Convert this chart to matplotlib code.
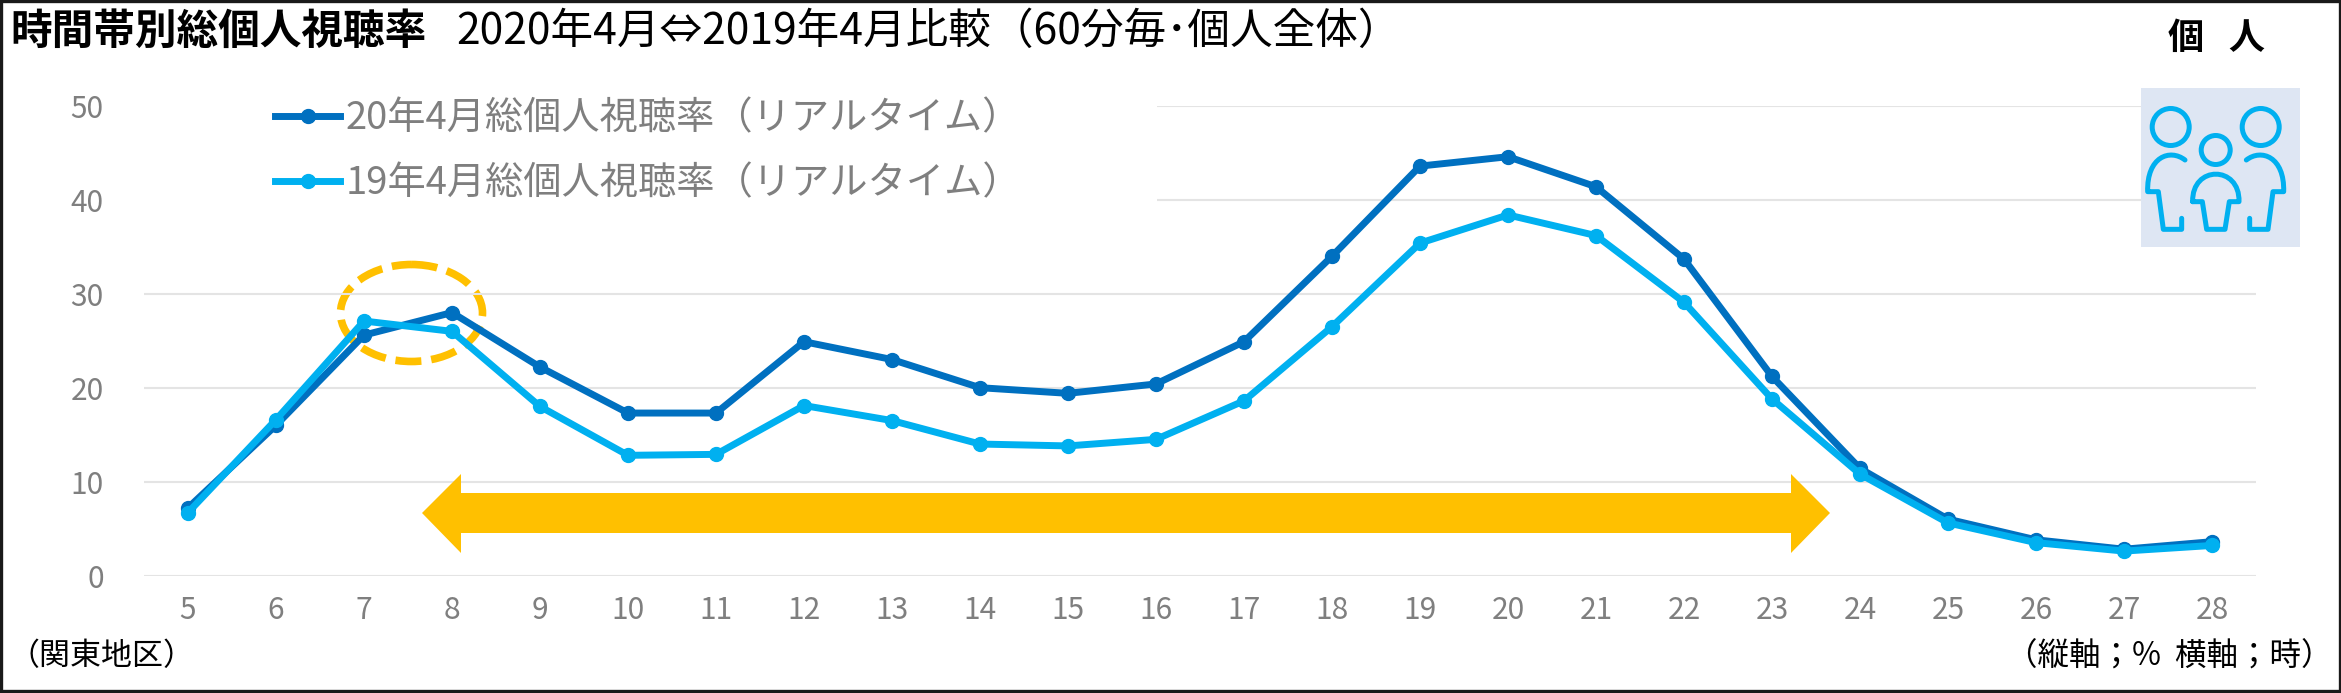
import matplotlib
matplotlib.use("Agg")
import matplotlib.pyplot as plt
from matplotlib.patches import Rectangle, Ellipse, Circle, Polygon, PathPatch
from matplotlib.path import Path

FONT = ['Noto Sans CJK JP', 'DejaVu Sans']
plt.rcParams['font.family'] = FONT

hours = list(range(5, 29))
y_ticks = [0, 10, 20, 30, 40, 50]
label_20 = '20年4月総個人視聴率（リアルタイム）'
label_19 = '19年4月総個人視聴率（リアルタイム）'
rate_2020 = [7.2, 16.0, 25.6, 28.0, 22.2, 17.3, 17.3, 24.9, 23.0, 20.0, 19.4, 20.4,
             24.9, 34.0, 43.6, 44.6, 41.4, 33.7, 21.2, 11.4, 6.0, 3.8, 2.8, 3.6]
rate_2019 = [6.7, 16.6, 27.1, 26.0, 18.0, 12.8, 12.9, 18.1, 16.5, 14.0, 13.8, 14.5,
             18.6, 26.5, 35.4, 38.4, 36.2, 29.1, 18.8, 10.8, 5.6, 3.5, 2.6, 3.2]

W, H = 2341, 693
BLUE, CYAN, GOLD, GREY = '#0070C0', '#00B0F0', '#FFC000', '#7F7F7F'
fig = plt.figure(figsize=(W / 100, H / 100), dpi=100, facecolor='white')

def pixel_axes(z):
    a = fig.add_axes([0, 0, 1, 1], zorder=z)
    a.set_xlim(0, W); a.set_ylim(H, 0); a.axis('off')
    return a

back = pixel_axes(1)
ax = fig.add_axes([144 / W, 1 - 575.5 / H, (2256 - 144) / W, (575.5 - 106) / H], zorder=2)
ax.patch.set_alpha(0)
front = pixel_axes(3)

# chart
ax.set_xlim(4.5, 28.5)
ax.set_ylim(0, 50)
ax.set_yticks(y_ticks)
ax.set_xticks(hours)
ax.grid(axis='y', color='#E4E4E4', lw=1.5, zorder=0)
ax.set_axisbelow(True)
for s in ax.spines.values():
    s.set_visible(False)
ax.tick_params(length=0, labelsize=21.5, labelcolor=GREY)
ax.tick_params(axis='y', pad=29)
ax.tick_params(axis='x', pad=14)
ax.add_patch(Rectangle((136, 90), 1021, 130, transform=front.transData,
                       fc='white', ec='none', zorder=1, clip_on=False))
ax.plot(hours, rate_2020, color=BLUE, lw=5, marker='o', ms=10, label=label_20, zorder=3,
        clip_on=False)
ax.plot(hours, rate_2019, color=CYAN, lw=5, marker='o', ms=10, label=label_19, zorder=4,
        clip_on=False)
leg = ax.legend(loc='upper left', bbox_to_anchor=(275, 99), bbox_transform=front.transData,
                frameon=False, fontsize=27.5, handlelength=1.71, handletextpad=0.13,
                labelspacing=0.68, borderpad=0, borderaxespad=0, labelcolor=GREY)
leg.set_zorder(6)

# annotation shapes
back.add_patch(Ellipse((411.5, 313), 142, 97, fill=False, ec=GOLD, lw=5.5, ls=(0, (3.4, 1.3))))
front.add_patch(Polygon([(422, 513), (461, 474), (461, 493), (1791, 493), (1791, 474),
                         (1830, 513), (1791, 553), (1791, 533), (461, 533), (461, 553)],
                        closed=True, fc=GOLD, ec='none'))

# icon
front.add_patch(Rectangle((2141, 88), 159, 159, fc='#DEE6F3', ec='none'))
ICON = dict(fill=False, ec=CYAN, lw=3.6, capstyle='round', joinstyle='round')
for c, r in [((2170.7, 127), 18.5), ((2260.7, 127), 18.5), ((2215.7, 150), 14.5)]:
    front.add_patch(Circle(c, r, **ICON))

def body(m):
    X = lambda x: 2050 + (x if m == 1 else 994 - x) / 3
    Y = lambda y: y / 3
    v = [(405, 480), (360, 445), (290, 470), (293, 575), (325, 575), (340, 688), (395, 688), (395, 655)]
    codes = [Path.MOVETO, Path.CURVE4, Path.CURVE4, Path.CURVE4, Path.LINETO, Path.LINETO,
             Path.LINETO, Path.LINETO]
    return Path([(X(x), Y(y)) for x, y in v], codes)

front.add_patch(PathPatch(body(1), **ICON))
front.add_patch(PathPatch(body(-1), **ICON))
kid = [(428, 605), (425, 495), (570, 495), (567, 605), (538, 605), (525, 688), (470, 688), (457, 605), (428, 605)]
front.add_patch(PathPatch(Path([(2050 + x / 3, y / 3) for x, y in kid],
                               [Path.MOVETO, Path.CURVE4, Path.CURVE4, Path.CURVE4,
                                Path.LINETO, Path.LINETO, Path.LINETO, Path.LINETO, Path.LINETO]),
                          **ICON))

# text
front.text(10, 32, '時間帯別総個人視聴率', fontsize=30, fontweight='bold', va='center', color='black')
front.text(456, 32, '2020年4月⇔2019年4月比較（60分毎･個人全体）', fontsize=30.7, va='center', color='black')
front.text(2217, 38, '個   人', fontsize=26, fontweight='bold', va='center', ha='center', color='black')
front.text(8, 657, '（関東地区）', fontsize=22.3, va='center', color='black')
front.text(2332, 657, '（縦軸；%  横軸；時）', fontsize=22.7, va='center', ha='right', color='black')

# frame
front.add_patch(Rectangle((1, 1), 2338.5, 690, fill=False, ec='#1A1A1A', lw=2.4))

fig.savefig('out.png', dpi=100, facecolor='white')
